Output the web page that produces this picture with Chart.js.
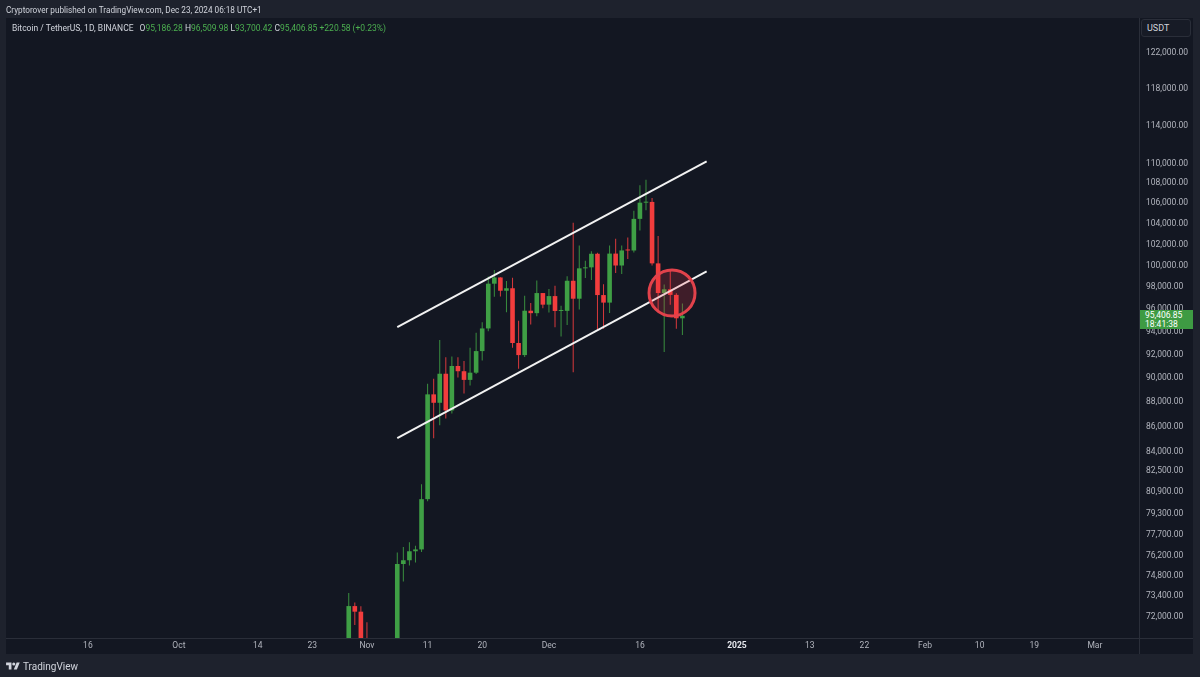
<!DOCTYPE html>
<html>
<head>
<meta charset="utf-8">
<title>Bitcoin / TetherUS, 1D</title>
<script src="https://cdn.jsdelivr.net/npm/chart.js@4.4.1/dist/chart.umd.min.js"></script>
<style>
  html, body { margin: 0; padding: 0; background: #1e222d; }
  body { width: 1200px; height: 677px; position: relative; overflow: hidden;
         font-family: Roboto, "Liberation Sans", sans-serif; color: #d1d4dc; }
  #pane { position: absolute; left: 6px; top: 18px; width: 1187px; height: 636px; background: #131722; }
  #timeRule { position: absolute; left: 6px; top: 638px; width: 1187px; height: 1px; background: #2a2e39; }
  #priceRule { position: absolute; left: 1139px; top: 18px; width: 1px; height: 636px; background: #2a2e39; }
  #chart { position: absolute; left: 0; top: 0; }
  #byline { position: absolute; left: 6px; top: 4px; font-size: 8.2px; line-height: 12px; white-space: nowrap; }
  #legend { position: absolute; left: 12px; top: 22px; font-size: 8.5px; line-height: 12px; white-space: nowrap; }
  #legend .up { color: #4caf50; }
  #legend .gap { margin-left: 6px; }
  #usdt { position: absolute; left: 1141px; top: 19px; width: 50px; height: 18px; box-sizing: border-box;
          border: 1px solid #2a2e39; border-radius: 3px; background: #171b26;
          font-size: 9px; line-height: 16px; padding-left: 5px; }
  #tag { position: absolute; left: 1140px; width: 53px; height: 19px; background: #3e9b43; color: #fff;
         font-size: 8.5px; line-height: 9px; padding: 1px 0 0 5px; box-sizing: border-box; }
  #footer { position: absolute; left: 6px; top: 661px; font-size: 10px; line-height: 12px; white-space: nowrap; }
  #footer svg { vertical-align: -1px; margin-right: 3px; }
</style>
</head>
<body>
<div id="pane"></div>
<div id="timeRule"></div>
<div id="priceRule"></div>
<canvas id="chart" width="1200" height="677"></canvas>
<div id="byline">Cryptorover published on TradingView.com, Dec 23, 2024 06:18 UTC+1</div>
<div id="legend"></div>
<div id="usdt">USDT</div>
<div id="tag"></div>
<div id="footer"><svg width="14" height="10" viewBox="0 0 36 26"><path fill="#d1d4dc" d="M14 22H7V11H0V4h14v18zM28 22h-8l7.5-18h8L28 22z"/><circle fill="#d1d4dc" cx="20" cy="8" r="4"/></svg>TradingView</div>
<script>
// daily candles, BINANCE BTCUSDT (only the part that shows in the window)
var candleDates = [
  "2024-10-29", "2024-10-30", "2024-10-31", "2024-11-01", "2024-11-02", "2024-11-03", "2024-11-04",
  "2024-11-05", "2024-11-06", "2024-11-07", "2024-11-08", "2024-11-09", "2024-11-10", "2024-11-11",
  "2024-11-12", "2024-11-13", "2024-11-14", "2024-11-15", "2024-11-16", "2024-11-17", "2024-11-18",
  "2024-11-19", "2024-11-20", "2024-11-21", "2024-11-22", "2024-11-23", "2024-11-24", "2024-11-25",
  "2024-11-26", "2024-11-27", "2024-11-28", "2024-11-29", "2024-11-30", "2024-12-01", "2024-12-02",
  "2024-12-03", "2024-12-04", "2024-12-05", "2024-12-06", "2024-12-07", "2024-12-08", "2024-12-09",
  "2024-12-10", "2024-12-11", "2024-12-12", "2024-12-13", "2024-12-14", "2024-12-15", "2024-12-16",
  "2024-12-17", "2024-12-18", "2024-12-19", "2024-12-20", "2024-12-21", "2024-12-22", "2024-12-23"
];
var opens = [
  69907.99, 72720.48, 72339.04, 70216.90, 69482.48, 69289.26, 68741.13,
  67811.51, 69359.56, 75639.07, 75904.86, 76545.47, 76677.46, 80370.01,
  88648.00, 87952.01, 90375.21, 87325.59, 91032.08, 90587.98, 89855.98,
  90464.07, 92310.80, 94286.56, 98317.12, 98892.00, 97672.40, 97900.05,
  93010.01, 91965.16, 95863.11, 95643.99, 97460.00, 96407.99, 97185.17,
  95840.61, 95849.69, 98587.32, 96945.63, 99740.84, 99831.99, 101109.60,
  97276.48, 96593.00, 101125.00, 100004.29, 101424.24, 101420.00, 104463.99,
  106058.65, 106133.74, 100204.01, 97461.86, 97805.44, 97292.00, 95186.28
];
var highs = [
  73620.12, 72961.00, 72700.00, 71632.95, 69918.00, 69389.00, 69433.18,
  70577.91, 76460.00, 76850.00, 77199.99, 76932.63, 81500.00, 89530.54,
  89956.88, 93265.64, 91790.00, 91850.00, 91779.66, 91449.99, 92594.98,
  93905.51, 94831.97, 98988.00, 99588.01, 98908.85, 98564.00, 98871.80,
  94973.37, 97208.21, 96564.00, 98619.99, 97463.95, 97836.00, 98130.00,
  96305.52, 99000.00, 104088.00, 101898.99, 100439.18, 101351.00, 101215.93,
  98270.00, 101888.00, 102540.00, 101895.26, 102650.00, 105250.00, 107793.07,
  108353.00, 106524.98, 102800.11, 98233.00, 99540.61, 97448.08, 96509.98
];
var lows = [
  69730.00, 71436.00, 69685.76, 68779.70, 69034.66, 67478.73, 66803.65,
  67458.87, 69322.03, 74416.00, 75534.83, 75746.00, 76492.00, 80216.01,
  85072.00, 86127.99, 86668.21, 87073.38, 90056.17, 88722.00, 89376.90,
  90357.00, 91500.00, 94040.00, 97122.11, 97136.00, 95734.77, 92600.19,
  90791.10, 91792.14, 94640.00, 95364.99, 96092.01, 95693.88, 94395.00,
  93578.17, 94587.83, 90500.00, 95981.72, 98844.00, 98657.70, 94150.05,
  94256.54, 95658.24, 99311.64, 99205.00, 100609.41, 101237.14, 103333.00,
  105321.49, 100000.00, 95700.00, 92232.54, 96398.39, 94250.35, 93700.42
];
var closes = [
  72720.49, 72339.04, 70215.19, 69482.47, 69289.27, 68741.12, 67811.51,
  69359.56, 75639.07, 75904.86, 76545.47, 76677.46, 80370.01, 88647.99,
  87952.01, 90375.20, 87325.59, 91032.07, 90586.92, 89855.99, 90464.08,
  92310.79, 94286.56, 98317.12, 98892.00, 97672.40, 97900.04, 93010.01,
  91965.16, 95863.11, 95643.98, 97460.00, 96407.99, 97185.18, 95840.62,
  95849.69, 98587.32, 96945.63, 99740.84, 99831.99, 101109.59, 97276.47,
  96593.00, 101125.00, 100004.29, 101424.25, 101420.00, 104463.99, 106058.66,
  106133.74, 100204.01, 97461.86, 97805.44, 97291.99, 95186.27, 95406.85
];

// price axis ticks as printed by TradingView
var priceTicks = [122000, 118000, 114000, 110000, 108000, 106000, 104000, 102000, 100000, 98000,
  96000, 94000, 92000, 90000, 88000, 86000, 84000, 82500, 80900, 79300, 77700, 76200, 74800, 73400, 72000];

// time axis ticks
var timeTickDates = ["2024-09-16", "2024-10-01", "2024-10-14", "2024-10-23", "2024-11-01", "2024-11-11",
  "2024-11-20", "2024-12-01", "2024-12-16", "2025-01-01", "2025-01-13", "2025-01-22", "2025-02-01",
  "2025-02-10", "2025-02-19", "2025-03-01"];
var timeTickLabels = ["16", "Oct", "14", "23", "Nov", "11", "20", "Dec", "16", "2025", "13", "22", "Feb",
  "10", "19", "Mar"];

// drawings: channel lines and the breakdown circle
var channelDates = ["2024-11-06", "2024-12-27"];
var channelUpper = [94410, 110230];
var channelLower = [85100, 99450];
var circleDate = "2024-12-21T07:00:00Z";
var circlePrice = 97470;

// visible window
var viewFrom = "2024-09-02T12:00:00Z";
var viewTo = "2025-03-08T06:30:00Z";
var priceMin = 70580;
var priceMax = 126060;

var UP = "#3f9f45", DOWN = "#f23d3d";
var UP_WICK = "#3a8f3f", DOWN_WICK = "#d9393c";

function dayNum(s) {
  return (Date.parse(s) - Date.parse("2024-01-01T00:00:00Z")) / 86400000;
}
function fmt(v) {
  return v.toLocaleString("en-US", { minimumFractionDigits: 2, maximumFractionDigits: 2 });
}

var n = closes.length;
var bodies = [], wicks = [], bodyColors = [], wickColors = [];
for (var i = 0; i < n; i++) {
  var d = dayNum(candleDates[i]);
  var up = closes[i] >= opens[i];
  bodies.push({ x: d, y: [opens[i], closes[i]] });
  wicks.push({ x: d, y: [lows[i], highs[i]] });
  bodyColors.push(up ? UP : DOWN);
  wickColors.push(up ? UP_WICK : DOWN_WICK);
}

// header legend
var last = n - 1;
var chg = closes[last] - closes[last - 1];
document.getElementById("legend").innerHTML =
  "Bitcoin / TetherUS, 1D, BINANCE" +
  '<span class="gap"></span>O<span class="up">' + fmt(opens[last]) + "</span>" +
  ' H<span class="up">' + fmt(highs[last]) + "</span>" +
  ' L<span class="up">' + fmt(lows[last]) + "</span>" +
  ' C<span class="up">' + fmt(closes[last]) + "</span>" +
  ' <span class="up">+' + fmt(chg) + " (+" + (chg / closes[last - 1] * 100).toFixed(2) + "%)</span>";

var tag = document.getElementById("tag");
tag.innerHTML = fmt(closes[last]) + "<br>18:41:38";

// keeps the last-price tag on the price axis
var priceTagPlugin = {
  id: "priceTag",
  afterDraw: function (chart) {
    var y = chart.scales.y.getPixelForValue(closes[last]);
    tag.style.top = Math.round(y - 6) + "px";
  }
};

var tickFont = { family: "Roboto, 'Liberation Sans', sans-serif", size: 8.5 };

new Chart(document.getElementById("chart"), {
  type: "bar",
  data: {
    datasets: [
      {
        type: "bubble",
        data: [{ x: dayNum(circleDate), y: circlePrice, r: 23 }],
        backgroundColor: "rgba(242,54,69,0.2)",
        borderColor: "#e2424b",
        borderWidth: 3,
        order: 0
      },
      {
        type: "line",
        data: channelDates.map(function (s, k) { return { x: dayNum(s), y: channelUpper[k] }; }),
        borderColor: "#f2f2f2",
        borderWidth: 2,
        pointRadius: 0,
        order: 1
      },
      {
        type: "line",
        data: channelDates.map(function (s, k) { return { x: dayNum(s), y: channelLower[k] }; }),
        borderColor: "#f2f2f2",
        borderWidth: 2,
        pointRadius: 0,
        order: 1
      },
      {
        data: bodies,
        backgroundColor: bodyColors,
        grouped: false,
        categoryPercentage: 1,
        barPercentage: 0.76,
        minBarLength: 1,
        order: 2
      },
      {
        data: wicks,
        backgroundColor: wickColors,
        grouped: false,
        maxBarThickness: 1,
        order: 3
      }
    ]
  },
  options: {
    responsive: false,
    animation: false,
    events: [],
    layout: { padding: { left: 6, top: 18, right: 7, bottom: 23 }, autoPadding: false },
    plugins: { legend: { display: false }, tooltip: { enabled: false } },
    scales: {
      x: {
        type: "linear",
        offset: false,
        min: dayNum(viewFrom),
        max: dayNum(viewTo),
        grid: { display: false, drawTicks: false, offset: false },
        border: { display: false },
        afterBuildTicks: function (s) {
          s.ticks = timeTickDates.map(function (t) { return { value: dayNum(t) }; });
        },
        afterFit: function (s) { s.height = 16; },
        ticks: {
          autoSkip: false,
          maxRotation: 0,
          padding: 3,
          color: function (ctx) { return ctx.index === 9 ? "#e6e8ee" : "#b2b5be"; },
          font: function (ctx) {
            return { family: tickFont.family, size: tickFont.size, weight: ctx.index === 9 ? "bold" : "normal" };
          },
          callback: function (v, idx) { return timeTickLabels[idx]; }
        }
      },
      y: {
        type: "logarithmic",
        position: "right",
        min: priceMin,
        max: priceMax,
        bounds: "data",
        grid: { display: false, drawTicks: false },
        border: { display: false },
        afterBuildTicks: function (s) {
          s.ticks = priceTicks.map(function (v) { return { value: v }; });
        },
        afterFit: function (s) { s.width = 54; },
        ticks: {
          padding: 7,
          color: "#b2b5be",
          font: tickFont,
          callback: function (v) { return fmt(v); }
        }
      }
    }
  },
  plugins: [priceTagPlugin]
});
</script>
</body>
</html>
